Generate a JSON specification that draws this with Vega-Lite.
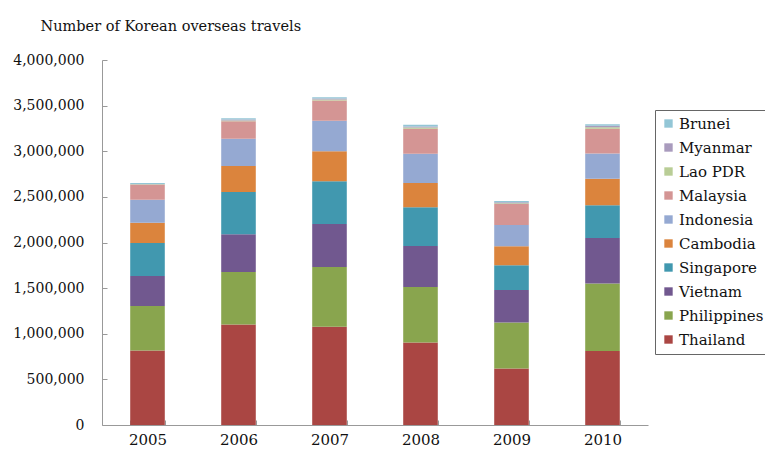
{
  "$schema": "https://vega.github.io/schema/vega-lite/v6.json",
  "width": 546,
  "height": 365,
  "autosize": {"type": "none"},
  "padding": {"left": 102, "top": 60, "right": 117, "bottom": 31},
  "background": "white",
  "config": {
    "view": {"stroke": null},
    "font": "DejaVu Serif",
    "axis": {"labelFont": "DejaVu Serif", "titleFont": "DejaVu Serif", "labelColor": "#111", "titleColor": "#111", "domainColor": "#999", "tickColor": "#999", "grid": false}
  },
  "data": {
    "values": [
      {"year": "2005", "country": "Thailand", "rank": 1, "travels": 817000},
      {"year": "2005", "country": "Philippines", "rank": 2, "travels": 488000},
      {"year": "2005", "country": "Vietnam", "rank": 3, "travels": 329000},
      {"year": "2005", "country": "Singapore", "rank": 4, "travels": 361000},
      {"year": "2005", "country": "Cambodia", "rank": 5, "travels": 222000},
      {"year": "2005", "country": "Indonesia", "rank": 6, "travels": 252000},
      {"year": "2005", "country": "Malaysia", "rank": 7, "travels": 164000},
      {"year": "2005", "country": "Lao PDR", "rank": 8, "travels": 4000},
      {"year": "2005", "country": "Myanmar", "rank": 9, "travels": 4000},
      {"year": "2005", "country": "Brunei", "rank": 10, "travels": 10000},

      {"year": "2006", "country": "Thailand", "rank": 1, "travels": 1101000},
      {"year": "2006", "country": "Philippines", "rank": 2, "travels": 576000},
      {"year": "2006", "country": "Vietnam", "rank": 3, "travels": 413000},
      {"year": "2006", "country": "Singapore", "rank": 4, "travels": 463000},
      {"year": "2006", "country": "Cambodia", "rank": 5, "travels": 284000},
      {"year": "2006", "country": "Indonesia", "rank": 6, "travels": 300000},
      {"year": "2006", "country": "Malaysia", "rank": 7, "travels": 192000},
      {"year": "2006", "country": "Lao PDR", "rank": 8, "travels": 8000},
      {"year": "2006", "country": "Myanmar", "rank": 9, "travels": 10000},
      {"year": "2006", "country": "Brunei", "rank": 10, "travels": 15000},

      {"year": "2007", "country": "Thailand", "rank": 1, "travels": 1076000},
      {"year": "2007", "country": "Philippines", "rank": 2, "travels": 656000},
      {"year": "2007", "country": "Vietnam", "rank": 3, "travels": 471000},
      {"year": "2007", "country": "Singapore", "rank": 4, "travels": 467000},
      {"year": "2007", "country": "Cambodia", "rank": 5, "travels": 331000},
      {"year": "2007", "country": "Indonesia", "rank": 6, "travels": 333000},
      {"year": "2007", "country": "Malaysia", "rank": 7, "travels": 222000},
      {"year": "2007", "country": "Lao PDR", "rank": 8, "travels": 10000},
      {"year": "2007", "country": "Myanmar", "rank": 9, "travels": 12000},
      {"year": "2007", "country": "Brunei", "rank": 10, "travels": 14000},

      {"year": "2008", "country": "Thailand", "rank": 1, "travels": 905000},
      {"year": "2008", "country": "Philippines", "rank": 2, "travels": 608000},
      {"year": "2008", "country": "Vietnam", "rank": 3, "travels": 449000},
      {"year": "2008", "country": "Singapore", "rank": 4, "travels": 423000},
      {"year": "2008", "country": "Cambodia", "rank": 5, "travels": 266000},
      {"year": "2008", "country": "Indonesia", "rank": 6, "travels": 321000},
      {"year": "2008", "country": "Malaysia", "rank": 7, "travels": 274000},
      {"year": "2008", "country": "Lao PDR", "rank": 8, "travels": 14000},
      {"year": "2008", "country": "Myanmar", "rank": 9, "travels": 12000},
      {"year": "2008", "country": "Brunei", "rank": 10, "travels": 18000},

      {"year": "2009", "country": "Thailand", "rank": 1, "travels": 620000},
      {"year": "2009", "country": "Philippines", "rank": 2, "travels": 504000},
      {"year": "2009", "country": "Vietnam", "rank": 3, "travels": 356000},
      {"year": "2009", "country": "Singapore", "rank": 4, "travels": 271000},
      {"year": "2009", "country": "Cambodia", "rank": 5, "travels": 207000},
      {"year": "2009", "country": "Indonesia", "rank": 6, "travels": 233000},
      {"year": "2009", "country": "Malaysia", "rank": 7, "travels": 230000},
      {"year": "2009", "country": "Lao PDR", "rank": 8, "travels": 10000},
      {"year": "2009", "country": "Myanmar", "rank": 9, "travels": 10000},
      {"year": "2009", "country": "Brunei", "rank": 10, "travels": 13000},

      {"year": "2010", "country": "Thailand", "rank": 1, "travels": 810000},
      {"year": "2010", "country": "Philippines", "rank": 2, "travels": 740000},
      {"year": "2010", "country": "Vietnam", "rank": 3, "travels": 499000},
      {"year": "2010", "country": "Singapore", "rank": 4, "travels": 358000},
      {"year": "2010", "country": "Cambodia", "rank": 5, "travels": 292000},
      {"year": "2010", "country": "Indonesia", "rank": 6, "travels": 277000},
      {"year": "2010", "country": "Malaysia", "rank": 7, "travels": 270000},
      {"year": "2010", "country": "Lao PDR", "rank": 8, "travels": 18000},
      {"year": "2010", "country": "Myanmar", "rank": 9, "travels": 15000},
      {"year": "2010", "country": "Brunei", "rank": 10, "travels": 18000}
    ]
  },
  "mark": {"type": "bar"},
  "encoding": {
    "x": {
      "field": "year",
      "type": "ordinal",
      "scale": {"paddingInner": 0.62, "paddingOuter": 0.31},
      "axis": {"title": null, "labelAngle": 0, "labelFontSize": 15, "labelPadding": 12, "tickBand": "extent", "tickSize": -5, "domainColor": "#999"}
    },
    "y": {
      "field": "travels",
      "type": "quantitative",
      "stack": "zero",
      "scale": {"domain": [0, 4000000], "nice": false},
      "axis": {
        "values": [0, 500000, 1000000, 1500000, 2000000, 2500000, 3000000, 3500000, 4000000],
        "format": ",d",
        "labelFontSize": 14,
        "tickSize": -5,
        "labelPadding": 23,
        "title": "Number of Korean overseas travels",
        "titleAngle": 0,
        "titleAlign": "left",
        "titleBaseline": "alphabetic",
        "titleFontWeight": "normal",
        "titleFontSize": 14.5,
        "titleX": -62,
        "titleY": -30
      }
    },
    "color": {
      "field": "country",
      "type": "nominal",
      "scale": {
        "domain": ["Brunei", "Myanmar", "Lao PDR", "Malaysia", "Indonesia", "Cambodia", "Singapore", "Vietnam", "Philippines", "Thailand"],
        "range": ["#93C6D6", "#A99BBD", "#B9CD96", "#D49594", "#95A9D2", "#DB843D", "#4198AF", "#71588F", "#89A54E", "#AA4643"]
      },
      "legend": {
        "title": null,
        "orient": "none",
        "legendX": 553,
        "legendY": 50,
        "symbolType": "square",
        "symbolSize": 70,
        "symbolStrokeWidth": 0,
        "labelFont": "DejaVu Serif",
        "labelFontSize": 15,
        "labelColor": "#111",
        "labelOffset": 3,
        "rowPadding": 8,
        "padding": 6,
        "strokeColor": "#666",
        "fillColor": "white",
        "labelLimit": 200
      }
    },
    "order": {"field": "rank", "type": "quantitative", "sort": "ascending"}
  }
}
